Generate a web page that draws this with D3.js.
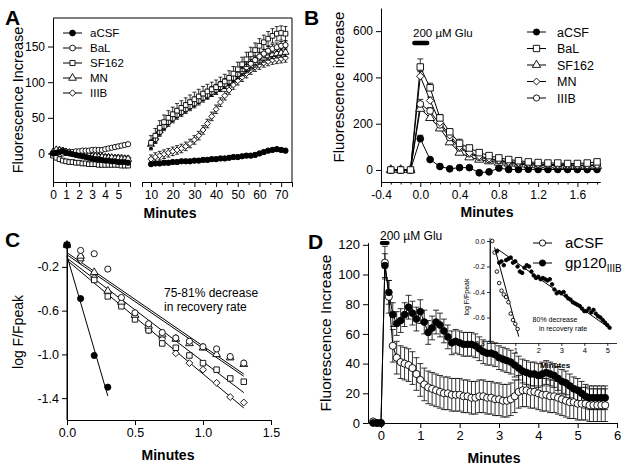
<!DOCTYPE html>
<html>
<head>
<meta charset="utf-8">
<script src="https://cdn.jsdelivr.net/npm/d3@7"></script>
<style>
  body { margin: 0; background: #fff; }
  text { font-family: "Liberation Sans", Arial, sans-serif; }
</style>
</head>
<body>
<svg id="fig" width="629" height="471"></svg>
<script>
// ---------- panel A data ----------
const namesA = ["aCSF", "BaL", "SF162", "MN", "IIIB"];
const shapesA = ["filled", "circle", "square", "triangle", "diamond"];
const timeA1 = [0,0.25,0.5,0.75,1,1.25,1.5,1.75,2,2.25,2.5,2.75,3,3.25,3.5,3.75,4,4.25,4.5,4.75,5,5.25,5.5,5.75];
const timeA2 = [10,12,14,16,18,20,22,24,26,28,30,32,34,36,38,40,42,44,46,48,50,52,54,56,58,60,62,64,66,68,70,72];
const a1_aCSF  = [0,1,2,3,1,0,-1,-2,-3,-4,-5,-6,-7,-8,-8,-9,-10,-10,-11,-11,-12,-12,-12,-13];
const a1_BaL   = [1,0,-1,0,1,2,2,3,3,4,4,4,5,5,5,5,6,7,8,9,10,11,12,13];
const a1_SF162 = [-3,-6,-8,-10,-11,-12,-12,-13,-13,-14,-14,-15,-15,-15,-16,-16,-16,-16,-16,-16,-16,-17,-17,-17];
const a1_MN    = [2,5,4,3,2,1,0,-1,-2,-2,-3,-3,-4,-4,-5,-5,-6,-6,-6,-7,-7,-8,-8,-8];
const a1_IIIB  = [0,3,6,5,3,2,1,0,-1,-1,-2,-2,-3,-3,-3,-4,-4,-4,-5,-5,-5,-5,-6,-6];
const a2_aCSF  = [-15,-14,-14,-13,-13,-12,-12,-11,-11,-11,-10,-10,-9,-9,-8,-8,-7,-7,-6,-5,-5,-4,-3,-3,-2,0,2,4,5,6,5,4];
const a2_BaL   = [12,20,30,38,44,49,54,58,62,66,70,74,78,82,86,89,93,97,101,106,111,116,121,126,131,136,140,144,147,149,151,152];
const a2_SF162 = [15,25,36,44,50,55,60,64,68,72,76,80,84,87,90,93,97,101,106,112,118,125,132,139,145,151,156,161,165,168,169,168];
const a2_MN    = [13,22,32,40,47,52,57,61,65,69,73,77,81,84,88,91,95,99,103,107,111,115,119,123,127,131,134,137,139,140,141,142];
const a2_IIIB  = [-8,-5,-3,-1,1,3,5,7,10,14,19,25,33,42,52,62,72,81,89,96,102,107,112,117,121,124,127,129,131,132,133,134];
const errA = [3, 6, 10, 6, 6];

// ---------- panel B data ----------
const namesB = ["aCSF", "BaL", "SF162", "MN", "IIIB"];
const shapesB = ["filled", "square", "triangle", "diamond", "circle"];
const timeB = [-0.3,-0.2,-0.1,0,0.1,0.2,0.3,0.4,0.5,0.6,0.7,0.8,0.9,1,1.1,1.2,1.3,1.4,1.5,1.6,1.7,1.8];
const b_aCSF  = [0,0,0,135,45,15,5,10,10,-12,-8,8,2,2,3,2,2,2,2,2,2,2];
const b_BaL   = [0,0,0,445,355,225,165,115,95,75,62,52,45,40,35,32,30,30,28,28,30,35];
const b_SF162 = [0,0,0,265,225,180,120,75,55,45,38,32,28,25,22,20,20,18,18,18,18,18];
const b_MN    = [0,0,0,405,300,205,150,100,75,60,50,42,36,32,28,25,24,22,22,20,20,22];
const b_IIIB  = [0,0,0,285,255,195,140,95,70,55,45,40,33,30,27,25,23,22,22,20,20,22];
const eb_aCSF  = [0,0,0,15,5,3,3,3,3,3,3,3,3,3,3,3,3,3,3,3,3,3];
const eb_BaL   = [0,0,0,35,20,15,12,18,12,8,6,5,5,5,5,5,5,5,5,5,5,5];
const eb_SF162 = [0,0,0,25,20,15,12,10,8,6,5,5,5,5,5,5,5,5,5,5,5,5];
const eb_MN    = [0,0,0,20,15,12,10,8,6,5,5,5,5,5,5,5,5,5,5,5,5,5];
const eb_IIIB  = [0,0,0,20,15,12,10,8,6,5,5,5,5,5,5,5,5,5,5,5,5,5];

// ---------- panel C data ----------
const timeC = [0,0.1,0.2,0.3,0.4,0.5,0.6,0.7,0.8,0.9,1,1.1,1.2,1.3];
const timeC_aCSF = [0,0.1,0.2,0.3];
const c_aCSF  = [0,-0.49,-1.01,-1.3];
const c_BaL   = [0,-0.05,-0.08,-0.22,-0.48,-0.62,-0.72,-0.8,-0.85,-0.88,-0.93,-0.95,-1.02,-1.08];
const c_MN    = [0,-0.1,-0.25,-0.42,-0.52,-0.64,-0.74,-0.82,-0.86,-0.9,-0.94,-1.0,-1.03,-1.09];
const c_SF162 = [0,-0.12,-0.32,-0.47,-0.56,-0.68,-0.78,-0.9,-0.94,-1.01,-1.08,-1.14,-1.22,-1.25];
const c_IIIB  = [0,-0.14,-0.3,-0.44,-0.54,-0.66,-0.78,-0.86,-0.99,-1.08,-1.14,-1.26,-1.39,-1.44];
// regression lines [x0, y0, x1, y1]
const fit_aCSF  = [0, -0.1, 0.3, -1.38];
const fit_BaL   = [0, -0.07, 1.3, -1.18];
const fit_MN    = [0, -0.09, 1.3, -1.2];
const fit_SF162 = [0, -0.12, 1.3, -1.35];
const fit_IIIB  = [0, -0.14, 1.3, -1.49];

// ---------- panel D data ----------
const timeD = [-0.2,-0.1,0,0.1,0.2,0.3,0.4,0.5,0.6,0.7,0.8,0.9,1,1.1,1.2,1.3,1.4,1.5,1.6,1.7,1.8,1.9,2,2.1,2.2,2.3,2.4,2.5,2.6,2.7,2.8,2.9,3,3.1,3.2,3.3,3.4,3.5,3.6,3.7,3.8,3.9,4,4.1,4.2,4.3,4.4,4.5,4.6,4.7,4.8,4.9,5,5.1,5.2,5.3,5.4,5.5,5.6,5.7];
const d_aCSF = [1,0,0,108,85,52,44,41,40,39,37,33,29,26,24,23,22,21,20,20,19,19,19,18,18,17,17,18,18,17,17,16,16,15,15,16,18,21,22,22,21,21,20,19,19,18,18,17,16,15,14,14,13,13,13,12,12,12,12,12];
const d_gp120 = [0,0,0,106,88,73,67,69,73,78,74,70,75,68,61,64,68,66,62,58,54,55,54,53,53,53,52,50,48,47,47,46,44,43,42,41,39,37,35,34,33,33,32,33,34,33,32,30,28,27,25,23,22,20,18,17,17,17,17,17];
const errD_aCSF = 11;
const errD_gp120 = 8;
const inset_aCSF_t = [0,0.1,0.2,0.3,0.4,0.5,0.6,0.7,0.8,0.9,1,1.1];
const inset_aCSF = [0,-0.09,-0.24,-0.33,-0.39,-0.42,-0.44,-0.48,-0.57,-0.62,-0.65,-0.69];
const inset_gp_t = [0.2,0.3,0.4,0.5,0.6,0.7,0.8,0.9,1,1.1,1.2,1.3,1.4,1.5,1.6,1.7,1.8,1.9,2,2.1,2.2,2.3,2.4,2.5,2.6,2.7,2.8,2.9,3,3.1,3.2,3.3,3.4,3.5,3.6,3.7,3.8,3.9,4,4.1,4.2,4.3,4.4,4.5,4.6,4.7,4.8,4.9,5,5.1];
const inset_gp = [-0.08,-0.17,-0.16,-0.19,-0.15,-0.14,-0.13,-0.17,-0.16,-0.2,-0.24,-0.25,-0.21,-0.19,-0.2,-0.24,-0.27,-0.29,-0.28,-0.3,-0.29,-0.3,-0.31,-0.3,-0.34,-0.38,-0.41,-0.4,-0.41,-0.4,-0.43,-0.45,-0.46,-0.48,-0.49,-0.5,-0.51,-0.53,-0.55,-0.55,-0.53,-0.56,-0.54,-0.57,-0.59,-0.6,-0.62,-0.64,-0.66,-0.68];
const fitInset_aCSF = [0.1, -0.05, 1.15, -0.75];
const fitInset_gp = [0.2, -0.06, 5.15, -0.69];

// ---------- helpers ----------
const FONT = '"Liberation Sans", Arial, sans-serif';
const svg = d3.select('#fig');

function shapePath(shape, size) {
    let t = d3.symbolCircle;
    if (shape === 'square') t = d3.symbolSquare;
    if (shape === 'triangle') t = d3.symbolTriangle;
    if (shape === 'diamond') t = d3.symbolDiamond2 || d3.symbolDiamond;
    return d3.symbol().type(t).size(size)();
}

function points(g, xs, ys, x, y, shape, size) {
    g.append('g').selectAll('path')
        .data(ys)
        .enter()
        .append('path')
        .attr('d', shapePath(shape, size))
        .attr('transform', (d, i) => `translate(${x(xs[i])},${y(d)})`)
        .attr('fill', shape === 'filled' ? '#000' : '#fff')
        .attr('stroke', '#000')
        .attr('stroke-width', 0.9);
}

function connect(g, xs, ys, x, y, w) {
    g.append('path')
        .datum(ys)
        .attr('d', d3.line().x((d, i) => x(xs[i])).y(d => y(d)))
        .attr('fill', 'none')
        .attr('stroke', '#000')
        .attr('stroke-width', w || 1);
}

// error bars; points before tStart (the flat baseline) get none
function errbars(g, xs, ys, errs, x, y, cap, mode, tStart) {
    ys.forEach((v, i) => {
        const e = Array.isArray(errs) ? errs[i] : errs;
        if (!e || (tStart !== undefined && xs[i] < tStart)) return;
        const cx = x(xs[i]);
        const top = y(v + e);
        const bot = mode === 'up' ? y(v) : y(v - e);
        g.append('line').attr('x1', cx).attr('x2', cx).attr('y1', top).attr('y2', bot)
            .attr('stroke', '#000').attr('stroke-width', 0.8);
        g.append('line').attr('x1', cx - cap).attr('x2', cx + cap).attr('y1', top).attr('y2', top)
            .attr('stroke', '#000').attr('stroke-width', 0.8);
        if (mode !== 'up') {
            g.append('line').attr('x1', cx - cap).attr('x2', cx + cap).attr('y1', bot).attr('y2', bot)
                .attr('stroke', '#000').attr('stroke-width', 0.8);
        }
    });
}

function fitLine(g, f, x, y) {
    g.append('line')
        .attr('x1', x(f[0])).attr('y1', y(f[1]))
        .attr('x2', x(f[2])).attr('y2', y(f[3]))
        .attr('stroke', '#000').attr('stroke-width', 1);
}

function styleAxis(g, fs) {
    g.attr('font-size', fs).attr('font-family', FONT);
    g.selectAll('line, path').attr('stroke', '#000');
    g.selectAll('text').attr('fill', '#000');
}

function label(x, y, txt, fs, opts) {
    opts = opts || {};
    const t = svg.append('text')
        .attr('x', x).attr('y', y)
        .attr('font-size', fs)
        .attr('text-anchor', opts.anchor || 'start')
        .attr('font-weight', opts.bold ? 'bold' : 'normal')
        .text(txt);
    if (opts.rotate) t.attr('transform', `rotate(-90,${x},${y})`);
    return t;
}

function legendRow(g, x0, x1, y, shape, size, txt, tx, fs) {
    g.append('line').attr('x1', x0).attr('x2', x1).attr('y1', y).attr('y2', y)
        .attr('stroke', '#000').attr('stroke-width', 1);
    g.append('path').attr('d', shapePath(shape, size))
        .attr('transform', `translate(${(x0 + x1) / 2},${y})`)
        .attr('fill', shape === 'filled' ? '#000' : '#fff')
        .attr('stroke', '#000').attr('stroke-width', 0.9);
    return g.append('text').attr('x', tx).attr('y', y + fs * 0.36).attr('font-size', fs).text(txt);
}

const fmt1 = d => d.toFixed(1);
const fmt0 = d3.format('d');

// ================= PANEL A =================
{
    const g = svg.append('g');
    const y = d3.scaleLinear().domain([-40, 190]).range([182, 18]);
    const x1 = d3.scaleLinear().domain([0, 5.9]).range([53, 130]);
    const x2 = d3.scaleLinear().domain([5.85, 75]).range([142, 292]);

    // frame
    g.append('path').attr('d', 'M53,18H292V182').attr('fill', 'none').attr('stroke', '#000');

    styleAxis(g.append('g').attr('transform', 'translate(53,0)')
        .call(d3.axisLeft(y).tickValues([0, 50, 100, 150]).tickFormat(fmt0).tickSize(5).tickSizeOuter(0)), 12);
    styleAxis(g.append('g').attr('transform', 'translate(0,182)')
        .call(d3.axisBottom(x1).tickValues([0, 1, 2, 3, 4, 5]).tickFormat(fmt0).tickSize(5).tickSizeOuter(5)), 12);
    styleAxis(g.append('g').attr('transform', 'translate(0,182)')
        .call(d3.axisBottom(x2).tickValues([10, 20, 30, 40, 50, 60, 70]).tickFormat(fmt0).tickSize(5).tickSizeOuter(5)), 12);
    styleAxis(g.append('g').attr('transform', 'translate(0,182)')
        .call(d3.axisBottom(x2).tickValues([15, 25, 35, 45, 55, 65]).tickSize(3).tickSizeOuter(0).tickFormat('')), 12);

    const early = [a1_aCSF, a1_BaL, a1_SF162, a1_MN, a1_IIIB];
    const late = [a2_aCSF, a2_BaL, a2_SF162, a2_MN, a2_IIIB];
    [4, 3, 1, 2, 0].forEach(k => {
        connect(g, timeA1, early[k], x1, y, 0.8);
        connect(g, timeA2, late[k], x2, y, 0.8);
        errbars(g, timeA2, late[k], errA[k], x2, y, 2, 'both');
        points(g, timeA1, early[k], x1, y, shapesA[k], 22);
        points(g, timeA2, late[k], x2, y, shapesA[k], 22);
    });

    const lg = svg.append('g');
    const rowsA = [33, 48, 63, 78, 93];
    namesA.forEach((n, i) => legendRow(lg, 63, 82, rowsA[i], shapesA[i], 26, n, 90, 11.5));

    label(23, 100, 'Fluorescence Increase', 14.5, { anchor: 'middle', rotate: true });
    label(170, 218, 'Minutes', 14, { anchor: 'middle', bold: true });
    label(5, 25, 'A', 21, { bold: true });
}

// ================= PANEL B =================
{
    const g = svg.append('g');
    const y = d3.scaleLinear().domain([-52, 700]).range([182, 8]);
    const x = d3.scaleLinear().domain([-0.4, 1.83]).range([381, 600]);

    styleAxis(g.append('g').attr('transform', 'translate(381,0)')
        .call(d3.axisLeft(y).tickValues([0, 200, 400, 600]).tickFormat(fmt0).tickSize(5).tickSizeOuter(0)), 12);
    styleAxis(g.append('g').attr('transform', 'translate(0,182)')
        .call(d3.axisBottom(x).tickValues([-0.4, 0, 0.4, 0.8, 1.2, 1.6]).tickFormat(fmt1).tickSize(5).tickSizeOuter(0)), 12);
    styleAxis(g.append('g').attr('transform', 'translate(0,182)')
        .call(d3.axisBottom(x).tickValues([-0.3, -0.2, -0.1, 0.1, 0.2, 0.3, 0.5, 0.6, 0.7, 0.9, 1.0, 1.1, 1.3, 1.4, 1.5, 1.7, 1.8])
            .tickSize(2.5).tickSizeOuter(0).tickFormat('')), 12);

    const vals = [b_aCSF, b_BaL, b_SF162, b_MN, b_IIIB];
    const errs = [eb_aCSF, eb_BaL, eb_SF162, eb_MN, eb_IIIB];
    [0, 2, 4, 3, 1].forEach(k => {
        connect(g, timeB, vals[k], x, y, 1);
        errbars(g, timeB, vals[k], errs[k], x, y, 3, 'up');
    });
    [0, 2, 4, 3, 1].forEach(k => points(g, timeB, vals[k], x, y, shapesB[k], k === 1 ? 42 : 36));

    // glutamate application
    g.append('line').attr('x1', x(-0.06)).attr('x2', x(0.07)).attr('y1', 43).attr('y2', 43)
        .attr('stroke', '#000').attr('stroke-width', 4.5).attr('stroke-linecap', 'round');
    label(413, 37, '200 \u00B5M Glu', 11.5);

    const lg = svg.append('g');
    const rowsB = [32, 48.5, 65, 81.5, 98];
    namesB.forEach((n, i) => legendRow(lg, 527, 546, rowsB[i], shapesB[i], i === 1 ? 40 : 30, n, 557, 12.5));

    label(344, 87, 'Fluorescence increase', 15, { anchor: 'middle', rotate: true });
    label(487, 217, 'Minutes', 14, { anchor: 'middle', bold: true });
    label(304, 25, 'B', 21, { bold: true });
}

// ================= PANEL C =================
{
    const g = svg.append('g');
    const y = d3.scaleLinear().domain([-1.6, 0]).range([420, 245]);
    const x = d3.scaleLinear().domain([0, 1.5]).range([67, 271]);

    g.append('line').attr('x1', 67).attr('x2', 67).attr('y1', 243).attr('y2', 420).attr('stroke', '#000');
    styleAxis(g.append('g').attr('transform', 'translate(67,0)')
        .call(d3.axisLeft(y).tickValues([-0.2, -0.6, -1.0, -1.4]).tickFormat(fmt1).tickSize(5).tickSizeOuter(0)), 12.5);
    styleAxis(g.append('g').attr('transform', 'translate(0,420)')
        .call(d3.axisBottom(x).tickValues([0, 0.5, 1.0, 1.5]).tickFormat(fmt1).tickSize(5).tickSizeOuter(0)), 12.5);

    [fit_aCSF, fit_BaL, fit_MN, fit_SF162, fit_IIIB].forEach(f => fitLine(g, f, x, y));

    points(g, timeC, c_IIIB, x, y, 'diamond', 30);
    points(g, timeC, c_SF162, x, y, 'square', 30);
    points(g, timeC, c_MN, x, y, 'triangle', 26);
    points(g, timeC, c_BaL, x, y, 'circle', 30);
    points(g, timeC_aCSF, c_aCSF, x, y, 'filled', 30);

    label(164, 297, '75-81% decrease', 12);
    label(164, 311, 'in recovery rate', 12);
    label(23, 332, 'log F/Fpeak', 14, { anchor: 'middle', rotate: true });
    label(168, 460, 'Minutes', 14, { anchor: 'middle', bold: true });
    label(5, 247, 'C', 21, { bold: true });
}

// ================= PANEL D =================
{
    const g = svg.append('g');
    const y = d3.scaleLinear().domain([0, 121.5]).range([423, 242.6]);
    const x = d3.scaleLinear().domain([-0.33, 6]).range([368, 617]);

    styleAxis(g.append('g').attr('transform', 'translate(368,0)')
        .call(d3.axisLeft(y).tickValues([0, 20, 40, 60, 80, 100, 120]).tickFormat(fmt0).tickSize(5).tickSizeOuter(0)), 13);
    styleAxis(g.append('g').attr('transform', 'translate(0,423)')
        .call(d3.axisBottom(x).tickValues([0, 1, 2, 3, 4, 5, 6]).tickFormat(fmt0).tickSize(5).tickSizeOuter(0)), 13);

    connect(g, timeD, d_aCSF, x, y, 1);
    connect(g, timeD, d_gp120, x, y, 1);
    errbars(g, timeD, d_aCSF, errD_aCSF, x, y, 3, 'both', 0.1);
    errbars(g, timeD, d_gp120, errD_gp120, x, y, 3, 'both', 0.1);
    points(g, timeD, d_aCSF, x, y, 'circle', 40);
    points(g, timeD, d_gp120, x, y, 'filled', 36);

    g.append('line').attr('x1', x(0.02)).attr('x2', x(0.17)).attr('y1', 243).attr('y2', 243)
        .attr('stroke', '#000').attr('stroke-width', 4).attr('stroke-linecap', 'round');
    label(380, 240, '200 \u00B5M Glu', 12);

    // legend
    const lg = svg.append('g');
    legendRow(lg, 533, 552, 243, 'circle', 30, 'aCSF', 565, 15);
    const t = legendRow(lg, 533, 552, 263, 'filled', 30, 'gp120', 565, 15);
    t.append('tspan').attr('dy', 4).attr('font-size', 10).text('IIIB');

    // inset
    const ig = svg.append('g');
    const iy = d3.scaleLinear().domain([-0.8, 0]).range([343, 241]);
    const ix = d3.scaleLinear().domain([-0.1, 5.4]).range([490, 616.5]);
    ig.append('line').attr('x1', 490).attr('x2', 490).attr('y1', 238).attr('y2', 343).attr('stroke', '#000').attr('stroke-width', 0.8);
    styleAxis(ig.append('g').attr('transform', 'translate(490,0)')
        .call(d3.axisLeft(iy).tickValues([0, -0.2, -0.4, -0.6, -0.8]).tickFormat(fmt1).tickSize(3).tickPadding(2).tickSizeOuter(0)), 7);
    styleAxis(ig.append('g').attr('transform', 'translate(0,343)')
        .call(d3.axisBottom(ix).tickValues([1, 2, 3, 4, 5]).tickFormat(fmt0).tickSize(3).tickPadding(2).tickSizeOuter(0)), 7.5);
    ig.selectAll('path.domain, .tick line').attr('stroke-width', 0.8);

    fitLine(ig, fitInset_aCSF, ix, iy);
    fitLine(ig, fitInset_gp, ix, iy);
    points(ig, inset_aCSF_t, inset_aCSF, ix, iy, 'circle', 10);
    points(ig, inset_gp_t, inset_gp, ix, iy, 'filled', 10);

    label(555, 322, '80% decrease', 7, { anchor: 'middle' });
    label(563, 331, 'in recovery rate', 7, { anchor: 'middle' });
    label(555, 368, 'Minutes', 8, { anchor: 'middle', bold: true });
    label(469, 297, 'log F/Fpeak', 7, { anchor: 'middle', rotate: true });

    label(331, 333, 'Fluorescence Increase', 15.5, { anchor: 'middle', rotate: true });
    label(494, 463, 'Minutes', 14, { anchor: 'middle', bold: true });
    label(308, 249, 'D', 21, { bold: true });
}
</script>
</body>
</html>
